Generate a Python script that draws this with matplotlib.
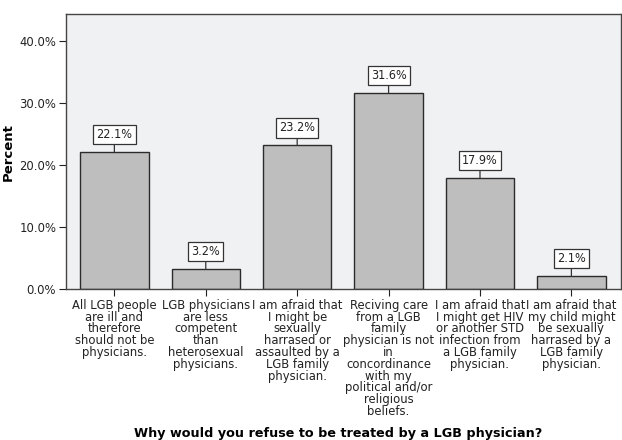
import numpy as np
import matplotlib
matplotlib.use("Agg")
import matplotlib.pyplot as plt
from matplotlib.ticker import FuncFormatter

plt.rcParams['font.family'] = ['DejaVu Sans']
plt.rcParams['font.stretch'] = 'condensed'

categories = [
    "All LGB people\nare ill and\ntherefore\nshould not be\nphysicians.",
    "LGB physicians\nare less\ncompetent\nthan\nheterosexual\nphysicians.",
    "I am afraid that\nI might be\nsexually\nharrased or\nassaulted by a\nLGB family\nphysician.",
    "Reciving care\nfrom a LGB\nfamily\nphysician is not\nin\nconcordinance\nwith my\npolitical and/or\nreligious\nbeliefs.",
    "I am afraid that\nI might get HIV\nor another STD\ninfection from\na LGB family\nphysician.",
    "I am afraid that\nmy child might\nbe sexually\nharrased by a\nLGB family\nphysician.",
]
percent = [22.1, 3.2, 23.2, 31.6, 17.9, 2.1]
yticks = [0, 10, 20, 30, 40]

fig = plt.figure(figsize=(6.22, 4.4), dpi=100)
ax = fig.add_axes([0.106, 0.343, 0.892, 0.625])
ax.set_facecolor("#f0f1f3")

x = np.arange(len(categories))
ax.bar(x, percent, width=0.75, color="#bebebe", edgecolor="#2b2b2b", linewidth=1.0, zorder=2)

for xi, v in zip(x, percent):
    ax.annotate(f"{v:.1f}%", xy=(xi, v), xytext=(0, 11), textcoords="offset pixels",
                ha="center", va="bottom", fontsize=9, color="#222222",
                bbox=dict(boxstyle="square,pad=0.25", fc="white", ec="#333333", lw=0.9),
                arrowprops=dict(arrowstyle="-", color="#333333", lw=0.9,
                                shrinkA=0, shrinkB=0))

ax.set_xlim(-0.53, 5.54)
ax.set_ylim(0, 44.4)
ax.set_yticks(yticks)
ax.yaxis.set_major_formatter(FuncFormatter(lambda v, p: f"{v:.1f}%"))
ax.set_xticks(x)
ax.set_xticklabels(categories, fontsize=9.3, linespacing=0.88)
ax.tick_params(axis="y", direction="out", length=5, pad=2, labelsize=9.3, colors="#222222")
ax.tick_params(axis="x", direction="out", length=5, pad=2, colors="#222222")
for s in ax.spines.values():
    s.set_color("#444444")
    s.set_linewidth(1.0)

ax.set_ylabel("Percent", fontsize=9.5, fontweight="bold", fontstretch="normal")
ax.yaxis.set_label_coords(-0.093, 0.5)
fig.text(0.544, 0.014, "Why would you refuse to be treated by a LGB physician?",
         ha="center", va="center", fontsize=9.2, fontweight="bold", fontstretch="normal")

fig.savefig("out.png", dpi=100)
